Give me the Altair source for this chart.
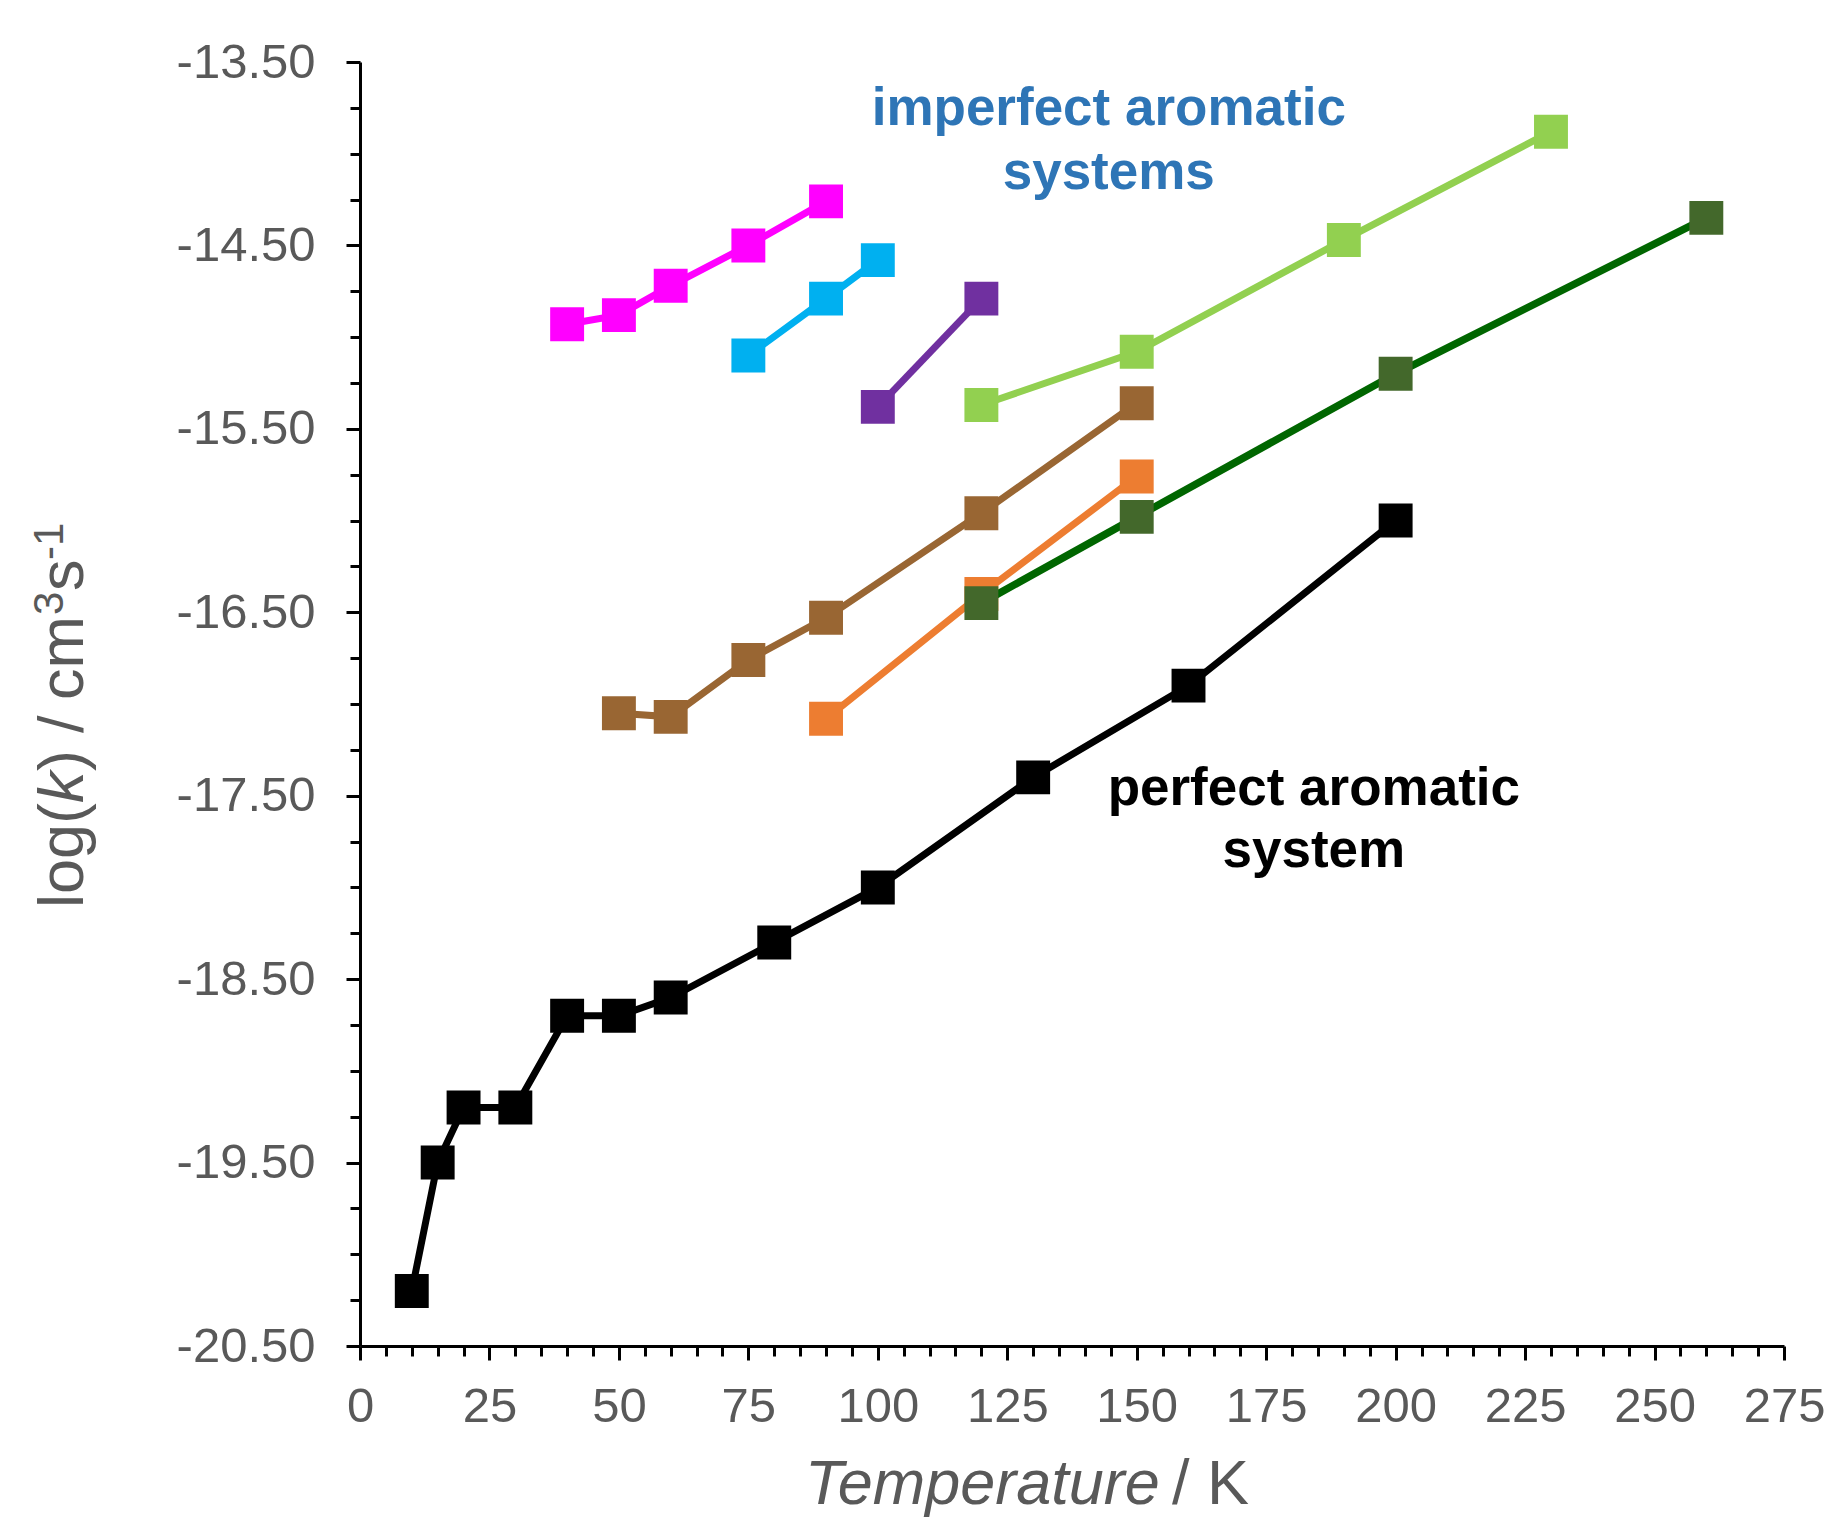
import altair as alt
import pandas as pd

# ---- data ----
black_T = [10, 15, 20, 30, 40, 50, 60, 80, 100, 130, 160, 200]
black_k = [-20.20, -19.50, -19.20, -19.20, -18.70, -18.70, -18.60, -18.30, -18.00, -17.40, -16.90, -16.00]
magenta_T = [40, 50, 60, 75, 90]
magenta_k = [-14.93, -14.88, -14.72, -14.50, -14.26]
cyan_T = [75, 90, 100]
cyan_k = [-15.10, -14.79, -14.58]
purple_T = [100, 120]
purple_k = [-15.38, -14.79]
lgreen_T = [120, 150, 190, 230]
lgreen_k = [-15.37, -15.08, -14.47, -13.88]
brown_T = [50, 60, 75, 90, 120, 150]
brown_k = [-17.05, -17.07, -16.76, -16.53, -15.96, -15.36]
orange_T = [90, 120, 150]
orange_k = [-17.08, -16.40, -15.76]
dgreen_T = [120, 150, 200, 260]
dgreen_k = [-16.45, -15.98, -15.20, -14.35]

x_ticks = list(range(0, 276, 5))
y_ticks = [-20.5 + 0.25 * i for i in range(29)]

notes_text = ["imperfect aromatic", "systems", "perfect aromatic", "system"]
notes_x = [144.6, 144.6, 184.2, 184.2]
notes_y = [-13.845, -14.195, -17.55, -17.89]
notes_color = ["#2E75B6", "#2E75B6", "#000000", "#000000"]

FONT = "Liberation Sans"
GRAY = "#595959"

xs = alt.Scale(domain=[0, 275], nice=False, zero=False)
ys = alt.Scale(domain=[-20.5, -13.5], nice=False, zero=False)

xaxis = alt.Axis(
    values=x_ticks, title=None, grid=False,
    labelExpr="datum.value % 25 === 0 ? format(datum.value, 'd') : ''",
    labelFont=FONT, labelFontSize=49, labelColor=GRAY, labelPadding=22,
    labelFlush=False, labelOverlap=False,
    tickSize={"condition": {"test": "datum.value % 25 === 0", "value": 14}, "value": 10},
    tickColor="black", tickWidth=3, domainColor="black", domainWidth=3,
)
yaxis = alt.Axis(
    values=y_ticks, title=None, grid=False,
    labelExpr="(datum.value + 20.5) % 1 === 0 ? '-' + format(-datum.value, '.2f') : ''",
    labelFont=FONT, labelFontSize=49, labelColor=GRAY, labelPadding=31,
    labelOverlap=False,
    tickSize={"condition": {"test": "(datum.value + 20.5) % 1 === 0", "value": 14}, "value": 10},
    tickColor="black", tickWidth=3, domainColor="black", domainWidth=3,
)


def series(T, k, line_color, marker_color, width=7):
    df = pd.DataFrame({"T": T, "k": k})
    base = alt.Chart(df).encode(
        x=alt.X("T:Q", scale=xs, axis=xaxis),
        y=alt.Y("k:Q", scale=ys, axis=yaxis),
    )
    return [
        base.mark_line(color=line_color, strokeWidth=width),
        base.mark_square(size=1150, color=marker_color, opacity=1),
    ]


layers = []
layers += series(black_T, black_k, "#000000", "#000000")
layers += series(magenta_T, magenta_k, "#FF00FF", "#FF00FF")
layers += series(cyan_T, cyan_k, "#00B0F0", "#00B0F0")
layers += series(purple_T, purple_k, "#7030A0", "#7030A0")
layers += series(lgreen_T, lgreen_k, "#92D050", "#92D050")
layers += series(brown_T, brown_k, "#996633", "#996633")
layers += series(orange_T, orange_k, "#ED7D31", "#ED7D31")
layers += series(dgreen_T, dgreen_k, "#006600", "#43682B", width=7.5)

notes = pd.DataFrame({"t": notes_text, "x": notes_x, "y": notes_y, "c": notes_color})
layers.append(
    alt.Chart(notes).mark_text(font=FONT, fontSize=53, fontWeight="bold",
                               align="center", baseline="alphabetic").encode(
        x=alt.X("x:Q", scale=xs, axis=xaxis),
        y=alt.Y("y:Q", scale=ys, axis=yaxis),
        text="t:N",
        color=alt.Color("c:N", scale=None),
    )
)

# axis titles built from pieces (pixel offsets relative to the plot origin)
one = pd.DataFrame({"a": [0]})


def piece(text, px, py, size, style="normal", angle=0):
    return alt.Chart(one).mark_text(
        text=text, font=FONT, fontSize=size, fontStyle=style, color=GRAY,
        align="left", baseline="alphabetic", angle=angle,
    ).encode(x=alt.value(px), y=alt.value(py))


OX, OY = 360, 62
layers += [
    piece("Temperature", 805 - OX, 1504 - OY, 63, "italic"),
    piece("/ K", 1172 - OX, 1504 - OY, 63),
    piece("log(", 83 - OX, 908 - OY, 63, angle=270),
    piece("k", 83 - OX, 803 - OY, 63, "italic", angle=270),
    piece(")", 83 - OX, 771 - OY, 63, angle=270),
    piece("/", 83 - OX, 733 - OY, 63, angle=270),
    piece("cm", 83 - OX, 700 - OY, 63, angle=270),
    piece("3", 63 - OX, 615 - OY, 42, angle=270),
    piece("s", 83 - OX, 591 - OY, 63, angle=270),
    piece("-1", 63 - OX, 560 - OY, 42, angle=270),
]

chart = alt.layer(*layers).properties(
    width=1424, height=1284,
    padding={"left": 360, "top": 62, "right": 42, "bottom": 175},
    autosize=alt.AutoSizeParams(type="none"),
    background="white",
).configure_view(stroke=None)

chart.save("out.html", embed_options={"renderer": "svg", "actions": False})
